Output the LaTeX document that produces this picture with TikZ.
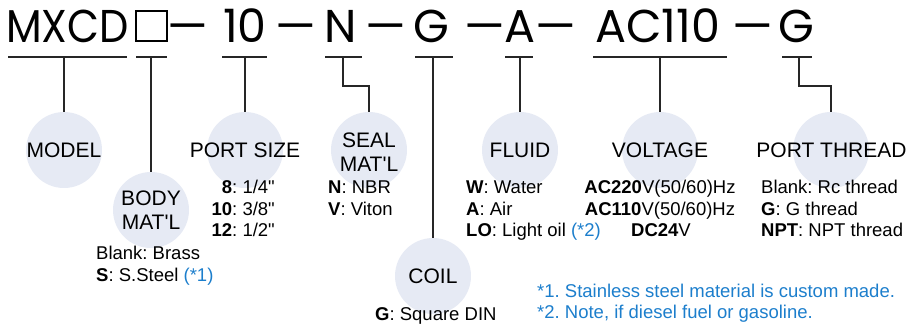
\documentclass[tikz,border=0pt]{standalone}
\usepackage{fontspec}
\setmainfont{Liberation Sans}[Ligatures=TeXOff]
\newfontfamily\headfont{Poppins}
\definecolor{noteblue}{HTML}{1C7ECC}
\definecolor{circfill}{HTML}{E6EAF4}
\frenchspacing
\begin{document}
\begin{tikzpicture}[x=1pt,y=-1pt,
  circ/.style={circle, fill=circfill, minimum size=76pt, inner sep=0pt},
  ctext/.style={font=\fontsize{21}{23.5}\selectfont, inner sep=0pt, align=center},
  small/.style={font=\fontsize{18.5}{21}\selectfont, inner sep=0pt},
  head/.style={font=\headfont\fontsize{46}{50}\selectfont, inner sep=0pt, anchor=base},
  ln/.style={line width=1.3pt, black!85},
  note/.style={small, text=noteblue, anchor=base west}]
\useasboundingbox (0,0) rectangle (907,327);
% heading
\node[head, xscale=0.9] (hm) at (67.5,42) {MXCD};
\node[draw, line width=2pt, minimum width=31pt, minimum height=30pt, inner sep=0pt] (hbox) at (151.5,26) {};
\node[head] (hd1) at (188,42) {—};
\node[head] (h10) at (245,42) {10};
\node[head] (hd2) at (296,42) {—};
\node[head] (hn) at (341,42) {N};
\node[head] (hd3) at (386,42) {—};
\node[head] (hg) at (431.5,42) {G};
\node[head] (hd4) at (485,42) {—};
\node[head] (ha) at (520,42) {A};
\node[head] (hd5) at (556,42) {—};
\node[head] (hac) at (657.5,42) {AC110};
\node[head] (hd6) at (753,42) {—};
\node[head] (hg2) at (796.5,42) {G};
% underlines
\draw[ln] (8,57) -- (127,57);
\draw[ln] (136,57) -- (167,57);
\draw[ln] (222,57) -- (267,57);
\draw[ln] (325,57) -- (362,57);
\draw[ln] (415,57) -- (453,57);
\draw[ln] (505,57) -- (533,57);
\draw[ln] (593,57) -- (727,57);
\draw[ln] (782,57) -- (812,57);
% circles
\node[circ] (model) at (64,150) {};
\node[circ] (body) at (151,210) {};
\node[circ] (port) at (245,150) {};
\node[circ] (seal) at (369,150) {};
\node[circ] (coil) at (433,276) {};
\node[circ] (fluid) at (520,150) {};
\node[circ] (volt) at (660,150) {};
\node[circ] (thread) at (831,150) {};
\node[ctext] (tmodel) at (model) {MODEL};
\node[ctext] (tbody) at (body) {BODY\\MAT'L};
\node[ctext] (tport) at (port) {PORT SIZE};
\node[ctext] (tseal) at ([yshift=-2pt]seal.center) {SEAL\\MAT'L};
\node[ctext] (tcoil) at (coil) {COIL};
\node[ctext] (tfluid) at (fluid) {FLUID};
\node[ctext] (tvolt) at (volt) {VOLTAGE};
\node[ctext] (tthread) at (831.5,150) {PORT THREAD};
% connectors
\coordinate (cm) at (64,57);
\coordinate (cb) at (151,57);
\coordinate (cp) at (245,57);
\coordinate (cs) at (343,57);
\coordinate (cg) at (433,57);
\coordinate (cf) at (520,57);
\coordinate (cv) at (660,57);
\coordinate (ct) at (799,57);
\draw[ln] (cm) -- (model.north);
\draw[ln] (cb) -- (body.north);
\draw[ln] (cp) -- (port.north);
\draw[ln] (cs) -- (343,86) -| (seal.north);
\draw[ln] (cg) -- (coil.north);
\draw[ln] (cf) -- (fluid.north);
\draw[ln] (cv) -- (volt.north);
\draw[ln] (ct) -- (799,86) -| (thread.north);
% option texts
\node[small, anchor=base west] (b1) at (96,259) {Blank: Brass};
\node[small, anchor=base west] (b2) at (96,281) {\textbf{S}: S.Steel \textcolor{noteblue}{(*1)}};
\node[small, anchor=base east] (p1) at (275,193) {\textbf{8}: 1/4"};
\node[small, anchor=base east] (p2) at (275,215) {\textbf{10}: 3/8"};
\node[small, anchor=base east] (p3) at (275,236) {\textbf{12}: 1/2"};
\node[small, anchor=base west] (s1) at (328,193) {\textbf{N}: NBR};
\node[small, anchor=base west] (s2) at (328,215) {\textbf{V}: Viton};
\node[small, anchor=base west] (g1) at (375,320) {\textbf{G}: Square DIN};
\node[small, anchor=base west] (f1) at (466,193) {\textbf{W}: Water};
\node[small, anchor=base west] (f2) at (466,215) {\textbf{A}: Air};
\node[small, anchor=base west] (f3) at (466,236) {\textbf{LO}: Light oil \textcolor{noteblue}{(*2)}};
\node[small, anchor=base] (v1) at (660,193) {\textbf{AC220}V(50/60)Hz};
\node[small, anchor=base] (v2) at (660,215) {\textbf{AC110}V(50/60)Hz};
\node[small, anchor=base] (v3) at (661,236) {\textbf{DC24}V};
\node[small, anchor=base west] (t1) at (761,193) {Blank: Rc thread};
\node[small, anchor=base west] (t2) at (761,215) {\textbf{G}: G thread};
\node[small, anchor=base west] (t3) at (761,236) {\textbf{NPT}: NPT thread};
\node[note] (n1) at (537,297) {*1. Stainless steel material is custom made.};
\node[note] (n2) at (537,318) {*2. Note, if diesel fuel or gasoline.};
\end{tikzpicture}
\end{document}
